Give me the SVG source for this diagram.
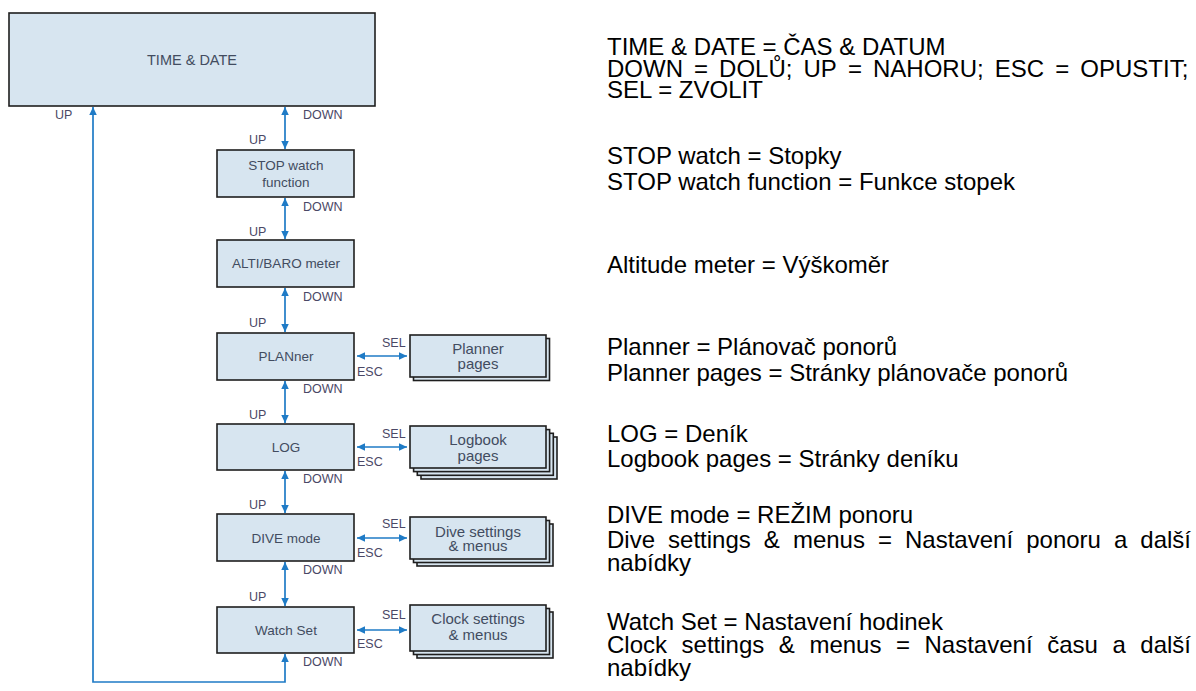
<svg xmlns="http://www.w3.org/2000/svg" width="1196" height="691" viewBox="0 0 1196 691">
  <style>
    .box { fill: #d7e5f0; stroke: #1e1e1e; stroke-width: 1.6; }
    .btxt { font-family: "Liberation Sans", Arial, sans-serif; font-size: 13.5px; fill: #424c60; text-anchor: middle; }
    .ptxt { font-family: "Liberation Sans", Arial, sans-serif; font-size: 15px; fill: #424c60; text-anchor: middle; }
    .lbl { font-family: "Liberation Sans", Arial, sans-serif; font-size: 12.5px; fill: #4a4866; }
    .wire { fill: none; stroke: #1f7bc6; stroke-width: 1.7; }
    .note { font-family: "Liberation Sans", Arial, sans-serif; font-size: 24px; fill: #000; }
  </style>
  <defs>
    <marker id="ah" viewBox="0 0 10 10" refX="10" refY="5" markerWidth="8" markerHeight="7.5" markerUnits="userSpaceOnUse" orient="auto-start-reverse" preserveAspectRatio="none">
      <path d="M0,0 L10,5 L0,10 z" fill="#1f7bc6"/>
    </marker>
  </defs>

  <rect width="1196" height="691" fill="#ffffff"/>

  <!-- menu nodes -->
  <g id="time-date">
    <rect class="box" x="9" y="13" width="366" height="93"/>
    <text class="btxt" x="192" y="65" style="font-size:14.5px">TIME &amp; DATE</text>
  </g>
  <g id="stop-watch">
    <rect class="box" x="217" y="150" width="137" height="47"/>
    <text class="btxt" x="286" y="170">STOP watch</text>
    <text class="btxt" x="286" y="187">function</text>
  </g>
  <g id="alti-baro">
    <rect class="box" x="217" y="240" width="137" height="47"/>
    <text class="btxt" x="286" y="268">ALTI/BARO meter</text>
  </g>
  <g id="planner">
    <rect class="box" x="217" y="333" width="137" height="47"/>
    <text class="btxt" x="286" y="361">PLANner</text>
  </g>
  <g id="log">
    <rect class="box" x="217" y="424" width="137" height="46"/>
    <text class="btxt" x="286" y="452">LOG</text>
  </g>
  <g id="dive-mode">
    <rect class="box" x="217" y="514" width="137" height="47"/>
    <text class="btxt" x="286" y="543">DIVE mode</text>
  </g>
  <g id="watch-set">
    <rect class="box" x="217" y="607" width="137" height="46"/>
    <text class="btxt" x="286" y="635">Watch Set</text>
  </g>

  <!-- page stacks -->
  <g id="planner-pages">
    <rect class="box" x="413.5" y="338.5" width="136" height="42"/>
    <rect class="box" x="410" y="335" width="136" height="42"/>
    <text class="ptxt" x="478" y="354">Planner</text>
    <text class="ptxt" x="478" y="369">pages</text>
  </g>
  <g id="logbook-pages">
    <rect class="box" x="421" y="437" width="136" height="42"/>
    <rect class="box" x="417.3" y="433.3" width="136" height="42"/>
    <rect class="box" x="413.6" y="429.6" width="136" height="42"/>
    <rect class="box" x="410" y="426" width="136" height="42"/>
    <text class="ptxt" x="478" y="445">Logbook</text>
    <text class="ptxt" x="478" y="461">pages</text>
  </g>
  <g id="dive-settings">
    <rect class="box" x="417" y="524" width="136" height="42"/>
    <rect class="box" x="413.5" y="520.5" width="136" height="42"/>
    <rect class="box" x="410" y="517" width="136" height="42"/>
    <text class="ptxt" x="478" y="537">Dive settings</text>
    <text class="ptxt" x="478" y="551">&amp; menus</text>
  </g>
  <g id="clock-settings">
    <rect class="box" x="417" y="612" width="136" height="46"/>
    <rect class="box" x="413.5" y="608.5" width="136" height="46"/>
    <rect class="box" x="410" y="605" width="136" height="46"/>
    <text class="ptxt" x="478" y="624">Clock settings</text>
    <text class="ptxt" x="478" y="640">&amp; menus</text>
  </g>

  <!-- connectors -->
  <g id="connectors">
    <line class="wire" x1="285" y1="107" x2="285" y2="149" marker-start="url(#ah)" marker-end="url(#ah)"/>
    <line class="wire" x1="285" y1="198" x2="285" y2="239" marker-start="url(#ah)" marker-end="url(#ah)"/>
    <line class="wire" x1="285" y1="288" x2="285" y2="332" marker-start="url(#ah)" marker-end="url(#ah)"/>
    <line class="wire" x1="285" y1="381" x2="285" y2="423" marker-start="url(#ah)" marker-end="url(#ah)"/>
    <line class="wire" x1="285" y1="471" x2="285" y2="513" marker-start="url(#ah)" marker-end="url(#ah)"/>
    <line class="wire" x1="285" y1="562" x2="285" y2="606" marker-start="url(#ah)" marker-end="url(#ah)"/>
    <path class="wire" d="M285,654 V682 H93 V107" marker-start="url(#ah)" marker-end="url(#ah)"/>
    <line class="wire" x1="357" y1="356" x2="407" y2="356" marker-start="url(#ah)" marker-end="url(#ah)"/>
    <line class="wire" x1="357" y1="447" x2="407" y2="447" marker-start="url(#ah)" marker-end="url(#ah)"/>
    <line class="wire" x1="357" y1="538" x2="407" y2="538" marker-start="url(#ah)" marker-end="url(#ah)"/>
    <line class="wire" x1="357" y1="630" x2="407" y2="630" marker-start="url(#ah)" marker-end="url(#ah)"/>
  </g>

  <!-- key labels -->
  <g id="key-labels">
    <text class="lbl" x="55" y="119">UP</text>
    <text class="lbl" x="303" y="119">DOWN</text>
    <text class="lbl" x="249" y="144">UP</text>
    <text class="lbl" x="303" y="211">DOWN</text>
    <text class="lbl" x="249" y="236">UP</text>
    <text class="lbl" x="303" y="301">DOWN</text>
    <text class="lbl" x="249" y="327">UP</text>
    <text class="lbl" x="303" y="393">DOWN</text>
    <text class="lbl" x="249" y="419">UP</text>
    <text class="lbl" x="303" y="483">DOWN</text>
    <text class="lbl" x="249" y="509">UP</text>
    <text class="lbl" x="303" y="574">DOWN</text>
    <text class="lbl" x="249" y="601">UP</text>
    <text class="lbl" x="303" y="666">DOWN</text>
    <text class="lbl" x="382" y="347">SEL</text>
    <text class="lbl" x="357" y="376">ESC</text>
    <text class="lbl" x="382" y="438">SEL</text>
    <text class="lbl" x="357" y="466">ESC</text>
    <text class="lbl" x="382" y="528">SEL</text>
    <text class="lbl" x="357" y="557">ESC</text>
    <text class="lbl" x="382" y="619">SEL</text>
    <text class="lbl" x="357" y="648">ESC</text>
  </g>

  <!-- translation notes -->
  <g id="notes" class="note">
    <text x="607" y="55">TIME &amp; DATE = ČAS &amp; DATUM</text>
    <text y="77"><tspan x="607">DOWN</tspan><tspan x="694">=</tspan><tspan x="719.1">DOLŮ;</tspan><tspan x="803.5">UP</tspan><tspan x="848">=</tspan><tspan x="873">NAHORU;</tspan><tspan x="994.8">ESC</tspan><tspan x="1055.2">=</tspan><tspan x="1080.3">OPUSTIT;</tspan></text>
    <text x="607" y="98">SEL = ZVOLIT</text>

    <text x="607" y="164">STOP watch = Stopky</text>
    <text x="607" y="190">STOP watch function = Funkce stopek</text>

    <text x="607" y="273">Altitude meter = Výškoměr</text>

    <text x="607" y="355">Planner = Plánovač ponorů</text>
    <text x="607" y="381">Planner pages = Stránky plánovače ponorů</text>

    <text x="607" y="442">LOG = Deník</text>
    <text x="607" y="467">Logbook pages = Stránky deníku</text>

    <text x="607" y="523">DIVE mode = REŽIM ponoru</text>
    <text y="548"><tspan x="607">Dive</tspan><tspan x="668.1">settings</tspan><tspan x="763.8">&amp;</tspan><tspan x="792.9">menus</tspan><tspan x="878">=</tspan><tspan x="905">Nastavení</tspan><tspan x="1026.2">ponoru</tspan><tspan x="1113.9">a</tspan><tspan x="1140.3">další</tspan></text>
    <text x="607" y="571">nabídky</text>

    <text x="607" y="630">Watch Set = Nastavení hodinek</text>
    <text y="653"><tspan x="607">Clock</tspan><tspan x="681.6">settings</tspan><tspan x="778.8">&amp;</tspan><tspan x="809.4">menus</tspan><tspan x="896">=</tspan><tspan x="924.5">Nastavení</tspan><tspan x="1047.2">času</tspan><tspan x="1112.4">a</tspan><tspan x="1140.3">další</tspan></text>
    <text x="607" y="676">nabídky</text>
  </g>
</svg>
